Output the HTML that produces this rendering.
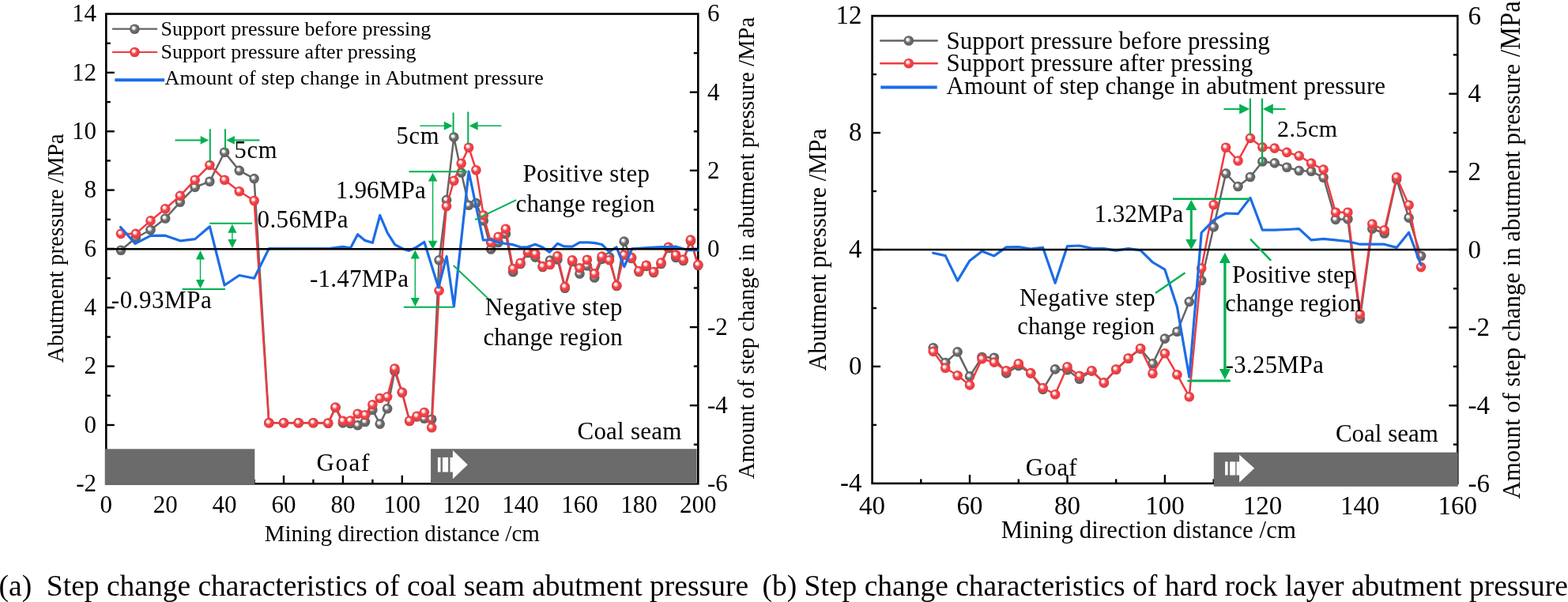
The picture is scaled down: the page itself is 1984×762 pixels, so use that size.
<!DOCTYPE html><html><head><meta charset="utf-8"><title>Step change characteristics</title>
<style>html,body{margin:0;padding:0;background:#fff;}svg{display:block;}text{font-family:"Liberation Serif", "Times New Roman", serif;fill:#000;}</style></head><body>
<svg width="1984" height="762" viewBox="0 0 1984 762">
<defs>
<radialGradient id="gG" cx="0.5" cy="0.5" r="0.5" fx="0.35" fy="0.35"><stop offset="0" stop-color="#ffffff"/><stop offset="0.22" stop-color="#f6f6f6"/><stop offset="0.55" stop-color="#6c6c6c"/><stop offset="0.8" stop-color="#646464"/><stop offset="1" stop-color="#5e5e5e"/></radialGradient>
<radialGradient id="gR" cx="0.5" cy="0.5" r="0.5" fx="0.35" fy="0.33"><stop offset="0" stop-color="#ffffff"/><stop offset="0.22" stop-color="#fff3f3"/><stop offset="0.55" stop-color="#ef454a"/><stop offset="0.8" stop-color="#ec3e43"/><stop offset="1" stop-color="#e8393e"/></radialGradient>
</defs>
<rect x="0" y="0" width="1984" height="762" fill="#fff"/>
<rect x="134.3" y="17.6" width="749" height="594.7" fill="none" stroke="#000" stroke-width="2.6"/>
<line x1="134.3" y1="575.1" x2="139.8" y2="575.1" stroke="#000" stroke-width="2.4" />
<line x1="134.3" y1="538" x2="144.8" y2="538" stroke="#000" stroke-width="2.4" />
<line x1="134.3" y1="500.8" x2="139.8" y2="500.8" stroke="#000" stroke-width="2.4" />
<line x1="134.3" y1="463.6" x2="144.8" y2="463.6" stroke="#000" stroke-width="2.4" />
<line x1="134.3" y1="426.5" x2="139.8" y2="426.5" stroke="#000" stroke-width="2.4" />
<line x1="134.3" y1="389.3" x2="144.8" y2="389.3" stroke="#000" stroke-width="2.4" />
<line x1="134.3" y1="352.1" x2="139.8" y2="352.1" stroke="#000" stroke-width="2.4" />
<line x1="134.3" y1="314.9" x2="144.8" y2="314.9" stroke="#000" stroke-width="2.4" />
<line x1="134.3" y1="277.8" x2="139.8" y2="277.8" stroke="#000" stroke-width="2.4" />
<line x1="134.3" y1="240.6" x2="144.8" y2="240.6" stroke="#000" stroke-width="2.4" />
<line x1="134.3" y1="203.4" x2="139.8" y2="203.4" stroke="#000" stroke-width="2.4" />
<line x1="134.3" y1="166.3" x2="144.8" y2="166.3" stroke="#000" stroke-width="2.4" />
<line x1="134.3" y1="129.1" x2="139.8" y2="129.1" stroke="#000" stroke-width="2.4" />
<line x1="134.3" y1="91.9" x2="144.8" y2="91.9" stroke="#000" stroke-width="2.4" />
<line x1="134.3" y1="54.8" x2="139.8" y2="54.8" stroke="#000" stroke-width="2.4" />
<line x1="883.3" y1="562.7" x2="877.8" y2="562.7" stroke="#000" stroke-width="2.4" />
<line x1="883.3" y1="513.2" x2="872.8" y2="513.2" stroke="#000" stroke-width="2.4" />
<line x1="883.3" y1="463.6" x2="877.8" y2="463.6" stroke="#000" stroke-width="2.4" />
<line x1="883.3" y1="414.1" x2="872.8" y2="414.1" stroke="#000" stroke-width="2.4" />
<line x1="883.3" y1="364.5" x2="877.8" y2="364.5" stroke="#000" stroke-width="2.4" />
<line x1="883.3" y1="314.9" x2="872.8" y2="314.9" stroke="#000" stroke-width="2.4" />
<line x1="883.3" y1="265.4" x2="877.8" y2="265.4" stroke="#000" stroke-width="2.4" />
<line x1="883.3" y1="215.8" x2="872.8" y2="215.8" stroke="#000" stroke-width="2.4" />
<line x1="883.3" y1="166.3" x2="877.8" y2="166.3" stroke="#000" stroke-width="2.4" />
<line x1="883.3" y1="116.7" x2="872.8" y2="116.7" stroke="#000" stroke-width="2.4" />
<line x1="883.3" y1="67.2" x2="877.8" y2="67.2" stroke="#000" stroke-width="2.4" />
<line x1="171.8" y1="612.3" x2="171.8" y2="606.8" stroke="#000" stroke-width="2.4" />
<line x1="209.2" y1="612.3" x2="209.2" y2="601.8" stroke="#000" stroke-width="2.4" />
<line x1="246.7" y1="612.3" x2="246.7" y2="606.8" stroke="#000" stroke-width="2.4" />
<line x1="284.1" y1="612.3" x2="284.1" y2="601.8" stroke="#000" stroke-width="2.4" />
<line x1="321.6" y1="612.3" x2="321.6" y2="606.8" stroke="#000" stroke-width="2.4" />
<line x1="359" y1="612.3" x2="359" y2="601.8" stroke="#000" stroke-width="2.4" />
<line x1="396.4" y1="612.3" x2="396.4" y2="606.8" stroke="#000" stroke-width="2.4" />
<line x1="433.9" y1="612.3" x2="433.9" y2="601.8" stroke="#000" stroke-width="2.4" />
<line x1="471.4" y1="612.3" x2="471.4" y2="606.8" stroke="#000" stroke-width="2.4" />
<line x1="508.8" y1="612.3" x2="508.8" y2="601.8" stroke="#000" stroke-width="2.4" />
<line x1="546.2" y1="612.3" x2="546.2" y2="606.8" stroke="#000" stroke-width="2.4" />
<line x1="583.7" y1="612.3" x2="583.7" y2="601.8" stroke="#000" stroke-width="2.4" />
<line x1="621.2" y1="612.3" x2="621.2" y2="606.8" stroke="#000" stroke-width="2.4" />
<line x1="658.6" y1="612.3" x2="658.6" y2="601.8" stroke="#000" stroke-width="2.4" />
<line x1="696" y1="612.3" x2="696" y2="606.8" stroke="#000" stroke-width="2.4" />
<line x1="733.5" y1="612.3" x2="733.5" y2="601.8" stroke="#000" stroke-width="2.4" />
<line x1="771" y1="612.3" x2="771" y2="606.8" stroke="#000" stroke-width="2.4" />
<line x1="808.4" y1="612.3" x2="808.4" y2="601.8" stroke="#000" stroke-width="2.4" />
<line x1="845.8" y1="612.3" x2="845.8" y2="606.8" stroke="#000" stroke-width="2.4" />
<text x="122.1" y="621.9" font-size="31" text-anchor="end" >-2</text>
<text x="122.1" y="547.6" font-size="31" text-anchor="end" >0</text>
<text x="122.1" y="473.2" font-size="31" text-anchor="end" >2</text>
<text x="122.1" y="398.9" font-size="31" text-anchor="end" >4</text>
<text x="122.1" y="324.6" font-size="31" text-anchor="end" >6</text>
<text x="122.1" y="250.2" font-size="31" text-anchor="end" >8</text>
<text x="122.1" y="175.9" font-size="31" text-anchor="end" >10</text>
<text x="122.1" y="101.5" font-size="31" text-anchor="end" >12</text>
<text x="122.1" y="27.2" font-size="31" text-anchor="end" >14</text>
<text x="895" y="622.1" font-size="31" text-anchor="start" >-6</text>
<text x="895" y="523" font-size="31" text-anchor="start" >-4</text>
<text x="895" y="423.9" font-size="31" text-anchor="start" >-2</text>
<text x="895" y="324.8" font-size="31" text-anchor="start" >0</text>
<text x="895" y="225.6" font-size="31" text-anchor="start" >2</text>
<text x="895" y="126.5" font-size="31" text-anchor="start" >4</text>
<text x="895" y="27.4" font-size="31" text-anchor="start" >6</text>
<text x="134.3" y="649.4" font-size="31" text-anchor="middle" >0</text>
<text x="209.2" y="649.4" font-size="31" text-anchor="middle" >20</text>
<text x="284.1" y="649.4" font-size="31" text-anchor="middle" >40</text>
<text x="359" y="649.4" font-size="31" text-anchor="middle" >60</text>
<text x="433.9" y="649.4" font-size="31" text-anchor="middle" >80</text>
<text x="508.8" y="649.4" font-size="31" text-anchor="middle" >100</text>
<text x="583.7" y="649.4" font-size="31" text-anchor="middle" >120</text>
<text x="658.6" y="649.4" font-size="31" text-anchor="middle" >140</text>
<text x="733.5" y="649.4" font-size="31" text-anchor="middle" >160</text>
<text x="808.4" y="649.4" font-size="31" text-anchor="middle" >180</text>
<text x="883.3" y="649.4" font-size="31" text-anchor="middle" >200</text>
<text transform="translate(80,314.3) rotate(-90)" font-size="29" text-anchor="middle">Abutment pressure /MPa</text>
<text transform="translate(953.8,313.9) rotate(-90)" font-size="28.8" text-anchor="middle">Amount of step change in abutment pressure /MPa</text>
<text x="334.7" y="684.8" font-size="29.0"  textLength="348.1" lengthAdjust="spacing">Mining direction distance /cm</text>
<rect x="132.7" y="568.3" width="189.6" height="45.4" fill="#6b6b6b"/>
<rect x="545.1" y="568.2" width="336.5" height="43.8" fill="#6b6b6b"/>
<rect x="553.9" y="578.9" width="3.6" height="18.6" fill="#fff"/>
<rect x="559.9" y="578.9" width="7.2" height="18.6" fill="#fff"/>
<rect x="569.5" y="578.9" width="3.9" height="18.6" fill="#fff"/>
<polygon points="572.9,570.1 591.8,588.2 572.9,606.2" fill="#fff"/>
<text x="730.5" y="555.7" font-size="31.0"  textLength="131.8" lengthAdjust="spacing">Coal seam</text>
<text x="400.4" y="596.1" font-size="31.0"  textLength="66.9" lengthAdjust="spacing">Goaf</text>
<polyline points="153,316.7 171.8,301 190.5,291 209.2,276.5 227.9,255.8 246.7,236.9 265.4,229.8 284.1,192.8 302.8,215.9 321.6,226.1 340.3,535.2 359,535.2 377.7,535.2 396.4,535.2 415.2,535.8 424.5,516 433.9,535.4 443.3,536 452.6,538.3 462,534 471.4,518.8 480.7,536.6 490.1,517.2 499.4,469.9 508.8,497 518.2,533 527.5,527.5 536.9,529.8 546.2,530.8 555.6,329.3 565,253.1 574.3,173.6 583.7,218.5 593.1,259.7 602.4,257.1 611.8,279.4 621.2,315.5 630.5,307 639.9,296 649.2,344.3 658.6,334 668,320 677.3,325.6 686.7,338 696,329.5 705.4,328.5 714.8,364.8 724.1,331 733.5,346.5 742.9,336.4 752.2,351.5 761.6,328 771,325.3 780.3,362 789.7,305.6 799,327 808.4,344 817.8,337 827.1,345 836.5,334 845.8,314 855.2,326 864.6,330 873.9,305 883.3,336" fill="none" stroke="#646464" stroke-width="2.5" stroke-linejoin="round" stroke-linecap="round"/>
<circle cx="153" cy="316.7" r="6.3" fill="url(#gG)"/>
<circle cx="171.8" cy="301" r="6.3" fill="url(#gG)"/>
<circle cx="190.5" cy="291" r="6.3" fill="url(#gG)"/>
<circle cx="209.2" cy="276.5" r="6.3" fill="url(#gG)"/>
<circle cx="227.9" cy="255.8" r="6.3" fill="url(#gG)"/>
<circle cx="246.7" cy="236.9" r="6.3" fill="url(#gG)"/>
<circle cx="265.4" cy="229.8" r="6.3" fill="url(#gG)"/>
<circle cx="284.1" cy="192.8" r="6.3" fill="url(#gG)"/>
<circle cx="302.8" cy="215.9" r="6.3" fill="url(#gG)"/>
<circle cx="321.6" cy="226.1" r="6.3" fill="url(#gG)"/>
<circle cx="340.3" cy="535.2" r="6.3" fill="url(#gG)"/>
<circle cx="359" cy="535.2" r="6.3" fill="url(#gG)"/>
<circle cx="377.7" cy="535.2" r="6.3" fill="url(#gG)"/>
<circle cx="396.4" cy="535.2" r="6.3" fill="url(#gG)"/>
<circle cx="415.2" cy="535.8" r="6.3" fill="url(#gG)"/>
<circle cx="424.5" cy="516" r="6.3" fill="url(#gG)"/>
<circle cx="433.9" cy="535.4" r="6.3" fill="url(#gG)"/>
<circle cx="443.3" cy="536" r="6.3" fill="url(#gG)"/>
<circle cx="452.6" cy="538.3" r="6.3" fill="url(#gG)"/>
<circle cx="462" cy="534" r="6.3" fill="url(#gG)"/>
<circle cx="471.4" cy="518.8" r="6.3" fill="url(#gG)"/>
<circle cx="480.7" cy="536.6" r="6.3" fill="url(#gG)"/>
<circle cx="490.1" cy="517.2" r="6.3" fill="url(#gG)"/>
<circle cx="499.4" cy="469.9" r="6.3" fill="url(#gG)"/>
<circle cx="508.8" cy="497" r="6.3" fill="url(#gG)"/>
<circle cx="518.2" cy="533" r="6.3" fill="url(#gG)"/>
<circle cx="527.5" cy="527.5" r="6.3" fill="url(#gG)"/>
<circle cx="536.9" cy="529.8" r="6.3" fill="url(#gG)"/>
<circle cx="546.2" cy="530.8" r="6.3" fill="url(#gG)"/>
<circle cx="555.6" cy="329.3" r="6.3" fill="url(#gG)"/>
<circle cx="565" cy="253.1" r="6.3" fill="url(#gG)"/>
<circle cx="574.3" cy="173.6" r="6.3" fill="url(#gG)"/>
<circle cx="583.7" cy="218.5" r="6.3" fill="url(#gG)"/>
<circle cx="593.1" cy="259.7" r="6.3" fill="url(#gG)"/>
<circle cx="602.4" cy="257.1" r="6.3" fill="url(#gG)"/>
<circle cx="611.8" cy="279.4" r="6.3" fill="url(#gG)"/>
<circle cx="621.2" cy="315.5" r="6.3" fill="url(#gG)"/>
<circle cx="630.5" cy="307" r="6.3" fill="url(#gG)"/>
<circle cx="639.9" cy="296" r="6.3" fill="url(#gG)"/>
<circle cx="649.2" cy="344.3" r="6.3" fill="url(#gG)"/>
<circle cx="658.6" cy="334" r="6.3" fill="url(#gG)"/>
<circle cx="668" cy="320" r="6.3" fill="url(#gG)"/>
<circle cx="677.3" cy="325.6" r="6.3" fill="url(#gG)"/>
<circle cx="686.7" cy="338" r="6.3" fill="url(#gG)"/>
<circle cx="696" cy="329.5" r="6.3" fill="url(#gG)"/>
<circle cx="705.4" cy="328.5" r="6.3" fill="url(#gG)"/>
<circle cx="714.8" cy="364.8" r="6.3" fill="url(#gG)"/>
<circle cx="724.1" cy="331" r="6.3" fill="url(#gG)"/>
<circle cx="733.5" cy="346.5" r="6.3" fill="url(#gG)"/>
<circle cx="742.9" cy="336.4" r="6.3" fill="url(#gG)"/>
<circle cx="752.2" cy="351.5" r="6.3" fill="url(#gG)"/>
<circle cx="761.6" cy="328" r="6.3" fill="url(#gG)"/>
<circle cx="771" cy="325.3" r="6.3" fill="url(#gG)"/>
<circle cx="780.3" cy="362" r="6.3" fill="url(#gG)"/>
<circle cx="789.7" cy="305.6" r="6.3" fill="url(#gG)"/>
<circle cx="799" cy="327" r="6.3" fill="url(#gG)"/>
<circle cx="808.4" cy="344" r="6.3" fill="url(#gG)"/>
<circle cx="817.8" cy="337" r="6.3" fill="url(#gG)"/>
<circle cx="827.1" cy="345" r="6.3" fill="url(#gG)"/>
<circle cx="836.5" cy="334" r="6.3" fill="url(#gG)"/>
<circle cx="845.8" cy="314" r="6.3" fill="url(#gG)"/>
<circle cx="855.2" cy="326" r="6.3" fill="url(#gG)"/>
<circle cx="864.6" cy="330" r="6.3" fill="url(#gG)"/>
<circle cx="873.9" cy="305" r="6.3" fill="url(#gG)"/>
<circle cx="883.3" cy="336" r="6.3" fill="url(#gG)"/>
<polyline points="153,295.9 171.8,295.9 190.5,279.4 209.2,264.2 227.9,247.9 246.7,227.7 265.4,209 284.1,227.7 302.8,242.2 321.6,254 340.3,535.2 359,535.2 377.7,535.2 396.4,535.2 415.2,535.5 424.5,515.6 433.9,532.7 443.3,532.5 452.6,523.7 462,525.2 471.4,512.2 480.7,504 490.1,502.2 499.4,466.5 508.8,496.6 518.2,532.7 527.5,526.7 536.9,522 546.2,541.3 555.6,367.9 565,261 574.3,228.7 583.7,206.7 593.1,186.7 602.4,215.2 611.8,272.5 621.2,306.9 630.5,299.7 639.9,289.7 649.2,340 658.6,332.8 668,318.4 677.3,321.2 686.7,337.1 696,335 705.4,324.1 714.8,363.1 724.1,329.2 733.5,339.3 742.9,328.8 752.2,346.4 761.6,324.6 771,329.2 780.3,361.4 789.7,322.7 799,325.9 808.4,343 817.8,335.8 827.1,344 836.5,332.5 845.8,312.8 855.2,322.7 864.6,328.6 873.9,303.6 883.3,335.1" fill="none" stroke="#ee3b40" stroke-width="2.5" stroke-linejoin="round" stroke-linecap="round"/>
<circle cx="153" cy="295.9" r="6.3" fill="url(#gR)"/>
<circle cx="171.8" cy="295.9" r="6.3" fill="url(#gR)"/>
<circle cx="190.5" cy="279.4" r="6.3" fill="url(#gR)"/>
<circle cx="209.2" cy="264.2" r="6.3" fill="url(#gR)"/>
<circle cx="227.9" cy="247.9" r="6.3" fill="url(#gR)"/>
<circle cx="246.7" cy="227.7" r="6.3" fill="url(#gR)"/>
<circle cx="265.4" cy="209" r="6.3" fill="url(#gR)"/>
<circle cx="284.1" cy="227.7" r="6.3" fill="url(#gR)"/>
<circle cx="302.8" cy="242.2" r="6.3" fill="url(#gR)"/>
<circle cx="321.6" cy="254" r="6.3" fill="url(#gR)"/>
<circle cx="340.3" cy="535.2" r="6.3" fill="url(#gR)"/>
<circle cx="359" cy="535.2" r="6.3" fill="url(#gR)"/>
<circle cx="377.7" cy="535.2" r="6.3" fill="url(#gR)"/>
<circle cx="396.4" cy="535.2" r="6.3" fill="url(#gR)"/>
<circle cx="415.2" cy="535.5" r="6.3" fill="url(#gR)"/>
<circle cx="424.5" cy="515.6" r="6.3" fill="url(#gR)"/>
<circle cx="433.9" cy="532.7" r="6.3" fill="url(#gR)"/>
<circle cx="443.3" cy="532.5" r="6.3" fill="url(#gR)"/>
<circle cx="452.6" cy="523.7" r="6.3" fill="url(#gR)"/>
<circle cx="462" cy="525.2" r="6.3" fill="url(#gR)"/>
<circle cx="471.4" cy="512.2" r="6.3" fill="url(#gR)"/>
<circle cx="480.7" cy="504" r="6.3" fill="url(#gR)"/>
<circle cx="490.1" cy="502.2" r="6.3" fill="url(#gR)"/>
<circle cx="499.4" cy="466.5" r="6.3" fill="url(#gR)"/>
<circle cx="508.8" cy="496.6" r="6.3" fill="url(#gR)"/>
<circle cx="518.2" cy="532.7" r="6.3" fill="url(#gR)"/>
<circle cx="527.5" cy="526.7" r="6.3" fill="url(#gR)"/>
<circle cx="536.9" cy="522" r="6.3" fill="url(#gR)"/>
<circle cx="546.2" cy="541.3" r="6.3" fill="url(#gR)"/>
<circle cx="555.6" cy="367.9" r="6.3" fill="url(#gR)"/>
<circle cx="565" cy="261" r="6.3" fill="url(#gR)"/>
<circle cx="574.3" cy="228.7" r="6.3" fill="url(#gR)"/>
<circle cx="583.7" cy="206.7" r="6.3" fill="url(#gR)"/>
<circle cx="593.1" cy="186.7" r="6.3" fill="url(#gR)"/>
<circle cx="602.4" cy="215.2" r="6.3" fill="url(#gR)"/>
<circle cx="611.8" cy="272.5" r="6.3" fill="url(#gR)"/>
<circle cx="621.2" cy="306.9" r="6.3" fill="url(#gR)"/>
<circle cx="630.5" cy="299.7" r="6.3" fill="url(#gR)"/>
<circle cx="639.9" cy="289.7" r="6.3" fill="url(#gR)"/>
<circle cx="649.2" cy="340" r="6.3" fill="url(#gR)"/>
<circle cx="658.6" cy="332.8" r="6.3" fill="url(#gR)"/>
<circle cx="668" cy="318.4" r="6.3" fill="url(#gR)"/>
<circle cx="677.3" cy="321.2" r="6.3" fill="url(#gR)"/>
<circle cx="686.7" cy="337.1" r="6.3" fill="url(#gR)"/>
<circle cx="696" cy="335" r="6.3" fill="url(#gR)"/>
<circle cx="705.4" cy="324.1" r="6.3" fill="url(#gR)"/>
<circle cx="714.8" cy="363.1" r="6.3" fill="url(#gR)"/>
<circle cx="724.1" cy="329.2" r="6.3" fill="url(#gR)"/>
<circle cx="733.5" cy="339.3" r="6.3" fill="url(#gR)"/>
<circle cx="742.9" cy="328.8" r="6.3" fill="url(#gR)"/>
<circle cx="752.2" cy="346.4" r="6.3" fill="url(#gR)"/>
<circle cx="761.6" cy="324.6" r="6.3" fill="url(#gR)"/>
<circle cx="771" cy="329.2" r="6.3" fill="url(#gR)"/>
<circle cx="780.3" cy="361.4" r="6.3" fill="url(#gR)"/>
<circle cx="789.7" cy="322.7" r="6.3" fill="url(#gR)"/>
<circle cx="799" cy="325.9" r="6.3" fill="url(#gR)"/>
<circle cx="808.4" cy="343" r="6.3" fill="url(#gR)"/>
<circle cx="817.8" cy="335.8" r="6.3" fill="url(#gR)"/>
<circle cx="827.1" cy="344" r="6.3" fill="url(#gR)"/>
<circle cx="836.5" cy="332.5" r="6.3" fill="url(#gR)"/>
<circle cx="845.8" cy="312.8" r="6.3" fill="url(#gR)"/>
<circle cx="855.2" cy="322.7" r="6.3" fill="url(#gR)"/>
<circle cx="864.6" cy="328.6" r="6.3" fill="url(#gR)"/>
<circle cx="873.9" cy="303.6" r="6.3" fill="url(#gR)"/>
<circle cx="883.3" cy="335.1" r="6.3" fill="url(#gR)"/>
<polyline points="152.6,287.5 171.1,308.4 190.5,298.4 209.2,298.2 228,304.8 246.7,302.6 265.4,286.8 284.1,361 302.8,348.5 321.6,352.2 340.3,314.6 418.2,314.3 433.6,312.3 443.6,313.8 452.5,296.7 461.9,304.4 471.4,307.3 480.8,272.5 490.3,294.9 499.7,309.7 509.8,315 517.5,317.4 526.3,313.3 536.8,306.3 554.8,364 565.1,324.6 574.4,388 593.1,217 611.4,304 620.9,303.5 633.2,307.5 649.1,309.7 659.2,313 667.9,312.6 677.2,309.3 686.6,313 695.3,319.1 705.4,308.3 714,311.9 724.2,312.2 733.5,306.8 744.4,306.8 753.1,307.6 761.7,309.5 770.8,318.7 780,312.8 789.9,337.7 799.7,314.8 831.9,312.8 855.5,312.2 871.2,316.7 883,316.7" fill="none" stroke="#1c6de6" stroke-width="3.2" stroke-linejoin="round" stroke-linecap="round"/>
<line x1="134.3" y1="315.3" x2="883.3" y2="315.3" stroke="#000" stroke-width="2.6" />
<line x1="142.8" y1="36.7" x2="198.3" y2="36.7" stroke="#646464" stroke-width="2.2" stroke-linecap="round"/>
<circle cx="170.4" cy="36.7" r="6.3" fill="url(#gG)"/>
<line x1="142.8" y1="66" x2="198.3" y2="66" stroke="#ee3b40" stroke-width="2.2" stroke-linecap="round"/>
<circle cx="170.4" cy="66" r="6.3" fill="url(#gR)"/>
<line x1="145.3" y1="101.2" x2="208.1" y2="101.2" stroke="#1c6de6" stroke-width="4.0" />
<text x="203.4" y="45.2" font-size="26.0"  textLength="341.9" lengthAdjust="spacing">Support pressure before pressing</text>
<text x="203.4" y="74.3" font-size="26.0"  textLength="323.2" lengthAdjust="spacing">Support pressure after pressing</text>
<text x="208.6" y="106.5" font-size="26.0"  textLength="479.2" lengthAdjust="spacing">Amount of step change in Abutment pressure</text>
<line x1="221.5" y1="177.4" x2="255" y2="177.4" stroke="#00b050" stroke-width="2.0" />
<polygon points="264.2,177.4 253.7,172.1 253.7,182.7" fill="#00b050"/>
<line x1="265.8" y1="163.3" x2="265.8" y2="206" stroke="#00b050" stroke-width="2.0" />
<line x1="285" y1="163.3" x2="285" y2="190" stroke="#00b050" stroke-width="2.0" />
<polygon points="286.3,177.4 296.8,172.1 296.8,182.7" fill="#00b050"/>
<line x1="295" y1="177.4" x2="328.5" y2="177.4" stroke="#00b050" stroke-width="2.0" />
<text x="296.4" y="199.6" font-size="30.5"  textLength="54.0" lengthAdjust="spacing">5cm</text>
<line x1="265.2" y1="282.8" x2="319.1" y2="282.8" stroke="#00b050" stroke-width="2.0" />
<line x1="293.9" y1="289.3" x2="293.9" y2="308.4" stroke="#00b050" stroke-width="1.4" />
<polygon points="293.9,283.8 288.3,294.8 299.5,294.8" fill="#00b050"/>
<polygon points="293.9,313.9 288.3,302.9 299.5,302.9" fill="#00b050"/>
<text x="325.6" y="287.8" font-size="31.0"  textLength="115.0" lengthAdjust="spacing">0.56MPa</text>
<line x1="230.7" y1="365.9" x2="285" y2="365.9" stroke="#00b050" stroke-width="2.0" />
<line x1="253.5" y1="322.7" x2="253.5" y2="359.6" stroke="#00b050" stroke-width="1.4" />
<polygon points="253.5,317 248,328.4 259,328.4" fill="#00b050"/>
<polygon points="253.5,365.3 248,353.9 259,353.9" fill="#00b050"/>
<text x="140.8" y="389.6" font-size="31.0"  textLength="127.0" lengthAdjust="spacing">-0.93MPa</text>
<line x1="531.3" y1="159.3" x2="563" y2="159.3" stroke="#00b050" stroke-width="1.4" />
<polygon points="572.8,159.3 561.8,153.8 561.8,164.8" fill="#00b050"/>
<line x1="573.6" y1="142.5" x2="573.6" y2="170.3" stroke="#00b050" stroke-width="2.0" />
<line x1="592.3" y1="141.5" x2="592.3" y2="183" stroke="#00b050" stroke-width="2.0" />
<polygon points="593.6,159.3 604.6,153.8 604.6,164.8" fill="#00b050"/>
<line x1="602" y1="159.3" x2="634.5" y2="159.3" stroke="#00b050" stroke-width="1.4" />
<text x="501.5" y="181.9" font-size="30.5"  textLength="54.1" lengthAdjust="spacing">5cm</text>
<line x1="517.5" y1="217.2" x2="591" y2="217.2" stroke="#00b050" stroke-width="2.0" />
<line x1="547.6" y1="224.1" x2="547.6" y2="310.1" stroke="#00b050" stroke-width="1.4" />
<polygon points="547.6,218.7 541.8,229.5 553.4,229.5" fill="#00b050"/>
<polygon points="547.6,315.5 541.8,304.7 553.4,304.7" fill="#00b050"/>
<text x="424.8" y="251.2" font-size="31.0"  textLength="113.9" lengthAdjust="spacing">1.96MPa</text>
<line x1="510.8" y1="388.8" x2="573.6" y2="388.8" stroke="#00b050" stroke-width="2.0" />
<line x1="525.3" y1="322.1" x2="525.3" y2="382.5" stroke="#00b050" stroke-width="1.4" />
<polygon points="525.3,316.6 519.7,327.6 530.9,327.6" fill="#00b050"/>
<polygon points="525.3,388 519.7,377 530.9,377" fill="#00b050"/>
<text x="391.9" y="363.0" font-size="31.0"  textLength="125.0" lengthAdjust="spacing">-1.47MPa</text>
<line x1="601.2" y1="278.2" x2="653.2" y2="253.1" stroke="#00b050" stroke-width="2.0" />
<text x="661.4" y="229.8" font-size="31.0"  textLength="160.6" lengthAdjust="spacing">Positive step</text>
<text x="652.6" y="267.6" font-size="31.0"  textLength="175.8" lengthAdjust="spacing">change region</text>
<line x1="573.7" y1="336" x2="619.2" y2="379.4" stroke="#00b050" stroke-width="2.0" />
<text x="613.8" y="399.4" font-size="31.0"  textLength="173.8" lengthAdjust="spacing">Negative step</text>
<text x="611.4" y="436.7" font-size="31.0"  textLength="176.4" lengthAdjust="spacing">change region</text>
<rect x="1103.6" y="20.1" width="740.7" height="591.8" fill="none" stroke="#000" stroke-width="2.6"/>
<line x1="1103.6" y1="537.9" x2="1109.1" y2="537.9" stroke="#000" stroke-width="2.4" />
<line x1="1103.6" y1="463.9" x2="1114.1" y2="463.9" stroke="#000" stroke-width="2.4" />
<line x1="1103.6" y1="390" x2="1109.1" y2="390" stroke="#000" stroke-width="2.4" />
<line x1="1103.6" y1="316" x2="1114.1" y2="316" stroke="#000" stroke-width="2.4" />
<line x1="1103.6" y1="242" x2="1109.1" y2="242" stroke="#000" stroke-width="2.4" />
<line x1="1103.6" y1="168.1" x2="1114.1" y2="168.1" stroke="#000" stroke-width="2.4" />
<line x1="1103.6" y1="94.1" x2="1109.1" y2="94.1" stroke="#000" stroke-width="2.4" />
<line x1="1844.3" y1="562.6" x2="1838.8" y2="562.6" stroke="#000" stroke-width="2.4" />
<line x1="1844.3" y1="513.3" x2="1833.3" y2="513.3" stroke="#000" stroke-width="2.4" />
<line x1="1844.3" y1="463.9" x2="1838.8" y2="463.9" stroke="#000" stroke-width="2.4" />
<line x1="1844.3" y1="414.6" x2="1833.3" y2="414.6" stroke="#000" stroke-width="2.4" />
<line x1="1844.3" y1="365.3" x2="1838.8" y2="365.3" stroke="#000" stroke-width="2.4" />
<line x1="1844.3" y1="316" x2="1833.3" y2="316" stroke="#000" stroke-width="2.4" />
<line x1="1844.3" y1="266.7" x2="1838.8" y2="266.7" stroke="#000" stroke-width="2.4" />
<line x1="1844.3" y1="217.4" x2="1833.3" y2="217.4" stroke="#000" stroke-width="2.4" />
<line x1="1844.3" y1="168.1" x2="1838.8" y2="168.1" stroke="#000" stroke-width="2.4" />
<line x1="1844.3" y1="118.7" x2="1833.3" y2="118.7" stroke="#000" stroke-width="2.4" />
<line x1="1844.3" y1="69.4" x2="1838.8" y2="69.4" stroke="#000" stroke-width="2.4" />
<line x1="1165.3" y1="611.9" x2="1165.3" y2="606.4" stroke="#000" stroke-width="2.4" />
<line x1="1227" y1="611.9" x2="1227" y2="600.9" stroke="#000" stroke-width="2.4" />
<line x1="1288.8" y1="611.9" x2="1288.8" y2="606.4" stroke="#000" stroke-width="2.4" />
<line x1="1350.5" y1="611.9" x2="1350.5" y2="600.9" stroke="#000" stroke-width="2.4" />
<line x1="1412.2" y1="611.9" x2="1412.2" y2="606.4" stroke="#000" stroke-width="2.4" />
<line x1="1473.9" y1="611.9" x2="1473.9" y2="600.9" stroke="#000" stroke-width="2.4" />
<line x1="1535.7" y1="611.9" x2="1535.7" y2="606.4" stroke="#000" stroke-width="2.4" />
<line x1="1597.4" y1="611.9" x2="1597.4" y2="600.9" stroke="#000" stroke-width="2.4" />
<line x1="1659.1" y1="611.9" x2="1659.1" y2="606.4" stroke="#000" stroke-width="2.4" />
<line x1="1720.8" y1="611.9" x2="1720.8" y2="600.9" stroke="#000" stroke-width="2.4" />
<line x1="1782.6" y1="611.9" x2="1782.6" y2="606.4" stroke="#000" stroke-width="2.4" />
<text x="1090.6" y="621.8" font-size="33" text-anchor="end" >-4</text>
<text x="1090.6" y="473.8" font-size="33" text-anchor="end" >0</text>
<text x="1090.6" y="325.9" font-size="33" text-anchor="end" >4</text>
<text x="1090.6" y="178" font-size="33" text-anchor="end" >8</text>
<text x="1090.6" y="30" font-size="33" text-anchor="end" >12</text>
<text x="1857.5" y="622.5" font-size="33" text-anchor="start" >-6</text>
<text x="1857.5" y="523.9" font-size="33" text-anchor="start" >-4</text>
<text x="1857.5" y="425.2" font-size="33" text-anchor="start" >-2</text>
<text x="1857.5" y="326.6" font-size="33" text-anchor="start" >0</text>
<text x="1857.5" y="228" font-size="33" text-anchor="start" >2</text>
<text x="1857.5" y="129.3" font-size="33" text-anchor="start" >4</text>
<text x="1857.5" y="30.7" font-size="33" text-anchor="start" >6</text>
<text x="1103.6" y="651" font-size="33" text-anchor="middle" >40</text>
<text x="1227" y="651" font-size="33" text-anchor="middle" >60</text>
<text x="1350.5" y="651" font-size="33" text-anchor="middle" >80</text>
<text x="1473.9" y="651" font-size="33" text-anchor="middle" >100</text>
<text x="1597.4" y="651" font-size="33" text-anchor="middle" >120</text>
<text x="1720.8" y="651" font-size="33" text-anchor="middle" >140</text>
<text x="1844.3" y="651" font-size="33" text-anchor="middle" >160</text>
<text transform="translate(1045.4,316.2) rotate(-90)" font-size="30.7" text-anchor="middle">Abutment pressure /MPa</text>
<text transform="translate(1922.8,631.4) rotate(-90)" font-size="32" textLength="550.5" lengthAdjust="spacingAndGlyphs">Amount of step change in abutment pressure</text>
<text transform="translate(1922.8,72.0) rotate(-90)" font-size="35" textLength="70.6" lengthAdjust="spacingAndGlyphs">/MPa</text>
<text x="1266.7" y="681.0" font-size="30.8"  textLength="373.3" lengthAdjust="spacing">Mining direction distance /cm</text>
<rect x="1535.8" y="572.6" width="308.9" height="43.2" fill="#6b6b6b"/>
<rect x="1550.1" y="584.4" width="3.5" height="17.1" fill="#fff"/>
<rect x="1556.1" y="584.4" width="7.1" height="17.1" fill="#fff"/>
<rect x="1564.6" y="584.4" width="4" height="17.1" fill="#fff"/>
<polygon points="1568.1,575.6 1587.2,592.7 1568.1,610.8" fill="#fff"/>
<text x="1689.9" y="558.7" font-size="31.0" >Coal seam</text>
<text x="1297.8" y="601.5" font-size="31.0"  textLength="64.8" lengthAdjust="spacing">Goaf</text>
<polyline points="1180.8,440.2 1196.2,459 1211.6,445.4 1227,476.4 1242.5,452 1257.9,452.8 1273.3,472.4 1288.8,463 1304.2,472.5 1319.6,492.9 1335.1,467.4 1350.5,468.2 1365.9,479.7 1381.4,469.5 1396.8,484.5 1412.2,467.8 1427.7,453.8 1443.1,441.5 1458.5,460.2 1473.9,428.6 1489.4,419.8 1504.8,381.9 1520.2,355 1535.7,287.3 1551.1,219.6 1566.5,236 1582,224 1597.4,204.5 1612.8,206.4 1628.3,211.7 1643.7,216 1659.1,216.8 1674.6,224.7 1690,277.9 1705.4,277.3 1720.8,403.5 1736.3,289.5 1751.7,295.5 1767.1,227 1782.6,275.6 1798,324" fill="none" stroke="#646464" stroke-width="2.5" stroke-linejoin="round" stroke-linecap="round"/>
<circle cx="1180.8" cy="440.2" r="6.3" fill="url(#gG)"/>
<circle cx="1196.2" cy="459" r="6.3" fill="url(#gG)"/>
<circle cx="1211.6" cy="445.4" r="6.3" fill="url(#gG)"/>
<circle cx="1227" cy="476.4" r="6.3" fill="url(#gG)"/>
<circle cx="1242.5" cy="452" r="6.3" fill="url(#gG)"/>
<circle cx="1257.9" cy="452.8" r="6.3" fill="url(#gG)"/>
<circle cx="1273.3" cy="472.4" r="6.3" fill="url(#gG)"/>
<circle cx="1288.8" cy="463" r="6.3" fill="url(#gG)"/>
<circle cx="1304.2" cy="472.5" r="6.3" fill="url(#gG)"/>
<circle cx="1319.6" cy="492.9" r="6.3" fill="url(#gG)"/>
<circle cx="1335.1" cy="467.4" r="6.3" fill="url(#gG)"/>
<circle cx="1350.5" cy="468.2" r="6.3" fill="url(#gG)"/>
<circle cx="1365.9" cy="479.7" r="6.3" fill="url(#gG)"/>
<circle cx="1381.4" cy="469.5" r="6.3" fill="url(#gG)"/>
<circle cx="1396.8" cy="484.5" r="6.3" fill="url(#gG)"/>
<circle cx="1412.2" cy="467.8" r="6.3" fill="url(#gG)"/>
<circle cx="1427.7" cy="453.8" r="6.3" fill="url(#gG)"/>
<circle cx="1443.1" cy="441.5" r="6.3" fill="url(#gG)"/>
<circle cx="1458.5" cy="460.2" r="6.3" fill="url(#gG)"/>
<circle cx="1473.9" cy="428.6" r="6.3" fill="url(#gG)"/>
<circle cx="1489.4" cy="419.8" r="6.3" fill="url(#gG)"/>
<circle cx="1504.8" cy="381.9" r="6.3" fill="url(#gG)"/>
<circle cx="1520.2" cy="355" r="6.3" fill="url(#gG)"/>
<circle cx="1535.7" cy="287.3" r="6.3" fill="url(#gG)"/>
<circle cx="1551.1" cy="219.6" r="6.3" fill="url(#gG)"/>
<circle cx="1566.5" cy="236" r="6.3" fill="url(#gG)"/>
<circle cx="1582" cy="224" r="6.3" fill="url(#gG)"/>
<circle cx="1597.4" cy="204.5" r="6.3" fill="url(#gG)"/>
<circle cx="1612.8" cy="206.4" r="6.3" fill="url(#gG)"/>
<circle cx="1628.3" cy="211.7" r="6.3" fill="url(#gG)"/>
<circle cx="1643.7" cy="216" r="6.3" fill="url(#gG)"/>
<circle cx="1659.1" cy="216.8" r="6.3" fill="url(#gG)"/>
<circle cx="1674.6" cy="224.7" r="6.3" fill="url(#gG)"/>
<circle cx="1690" cy="277.9" r="6.3" fill="url(#gG)"/>
<circle cx="1705.4" cy="277.3" r="6.3" fill="url(#gG)"/>
<circle cx="1720.8" cy="403.5" r="6.3" fill="url(#gG)"/>
<circle cx="1736.3" cy="289.5" r="6.3" fill="url(#gG)"/>
<circle cx="1751.7" cy="295.5" r="6.3" fill="url(#gG)"/>
<circle cx="1767.1" cy="227" r="6.3" fill="url(#gG)"/>
<circle cx="1782.6" cy="275.6" r="6.3" fill="url(#gG)"/>
<circle cx="1798" cy="324" r="6.3" fill="url(#gG)"/>
<polyline points="1180.8,444.9 1196.2,465.8 1211.6,475.3 1227,487.4 1242.5,454.3 1257.9,458.6 1273.3,469.3 1288.8,460.3 1304.2,472.1 1319.6,491 1335.1,499.2 1350.5,464.2 1365.9,475.8 1381.4,469.2 1396.8,484.3 1412.2,467.5 1427.7,453.5 1443.1,441 1458.5,472.7 1473.9,447.3 1489.4,474.2 1504.8,502.2 1520.2,339.5 1535.7,259.3 1551.1,186.7 1566.5,203.5 1582,174.9 1597.4,186.4 1612.8,187.6 1628.3,192.9 1643.7,197.3 1659.1,206.6 1674.6,214.6 1690,268.7 1705.4,268.7 1720.8,397.7 1736.3,283.5 1751.7,291.3 1767.1,224.3 1782.6,259.5 1798,338.1" fill="none" stroke="#ee3b40" stroke-width="2.5" stroke-linejoin="round" stroke-linecap="round"/>
<circle cx="1180.8" cy="444.9" r="6.3" fill="url(#gR)"/>
<circle cx="1196.2" cy="465.8" r="6.3" fill="url(#gR)"/>
<circle cx="1211.6" cy="475.3" r="6.3" fill="url(#gR)"/>
<circle cx="1227" cy="487.4" r="6.3" fill="url(#gR)"/>
<circle cx="1242.5" cy="454.3" r="6.3" fill="url(#gR)"/>
<circle cx="1257.9" cy="458.6" r="6.3" fill="url(#gR)"/>
<circle cx="1273.3" cy="469.3" r="6.3" fill="url(#gR)"/>
<circle cx="1288.8" cy="460.3" r="6.3" fill="url(#gR)"/>
<circle cx="1304.2" cy="472.1" r="6.3" fill="url(#gR)"/>
<circle cx="1319.6" cy="491" r="6.3" fill="url(#gR)"/>
<circle cx="1335.1" cy="499.2" r="6.3" fill="url(#gR)"/>
<circle cx="1350.5" cy="464.2" r="6.3" fill="url(#gR)"/>
<circle cx="1365.9" cy="475.8" r="6.3" fill="url(#gR)"/>
<circle cx="1381.4" cy="469.2" r="6.3" fill="url(#gR)"/>
<circle cx="1396.8" cy="484.3" r="6.3" fill="url(#gR)"/>
<circle cx="1412.2" cy="467.5" r="6.3" fill="url(#gR)"/>
<circle cx="1427.7" cy="453.5" r="6.3" fill="url(#gR)"/>
<circle cx="1443.1" cy="441" r="6.3" fill="url(#gR)"/>
<circle cx="1458.5" cy="472.7" r="6.3" fill="url(#gR)"/>
<circle cx="1473.9" cy="447.3" r="6.3" fill="url(#gR)"/>
<circle cx="1489.4" cy="474.2" r="6.3" fill="url(#gR)"/>
<circle cx="1504.8" cy="502.2" r="6.3" fill="url(#gR)"/>
<circle cx="1520.2" cy="339.5" r="6.3" fill="url(#gR)"/>
<circle cx="1535.7" cy="259.3" r="6.3" fill="url(#gR)"/>
<circle cx="1551.1" cy="186.7" r="6.3" fill="url(#gR)"/>
<circle cx="1566.5" cy="203.5" r="6.3" fill="url(#gR)"/>
<circle cx="1582" cy="174.9" r="6.3" fill="url(#gR)"/>
<circle cx="1597.4" cy="186.4" r="6.3" fill="url(#gR)"/>
<circle cx="1612.8" cy="187.6" r="6.3" fill="url(#gR)"/>
<circle cx="1628.3" cy="192.9" r="6.3" fill="url(#gR)"/>
<circle cx="1643.7" cy="197.3" r="6.3" fill="url(#gR)"/>
<circle cx="1659.1" cy="206.6" r="6.3" fill="url(#gR)"/>
<circle cx="1674.6" cy="214.6" r="6.3" fill="url(#gR)"/>
<circle cx="1690" cy="268.7" r="6.3" fill="url(#gR)"/>
<circle cx="1705.4" cy="268.7" r="6.3" fill="url(#gR)"/>
<circle cx="1720.8" cy="397.7" r="6.3" fill="url(#gR)"/>
<circle cx="1736.3" cy="283.5" r="6.3" fill="url(#gR)"/>
<circle cx="1751.7" cy="291.3" r="6.3" fill="url(#gR)"/>
<circle cx="1767.1" cy="224.3" r="6.3" fill="url(#gR)"/>
<circle cx="1782.6" cy="259.5" r="6.3" fill="url(#gR)"/>
<circle cx="1798" cy="338.1" r="6.3" fill="url(#gR)"/>
<polyline points="1180.8,320.2 1196.2,323.6 1211.6,355.4 1227,329.9 1242.5,318.1 1257.9,323.9 1273.3,312.9 1288.8,312.6 1304.2,315 1319.6,313.4 1335.1,358.3 1350.5,311.6 1365.9,311 1381.4,314.4 1396.8,314.7 1412.2,317.1 1427.7,314.7 1443.1,316.8 1458.5,332 1473.9,341.2 1489.4,388.6 1504.8,477.2 1520.2,294.5 1535.7,278.6 1551.1,270 1566.5,270.6 1582,250.4 1597.4,291.2 1612.8,291.2 1628.3,290.5 1643.7,289.6 1659.1,303.9 1674.6,302.3 1690,303.9 1705.4,305.5 1720.8,309.2 1736.3,309.2 1751.7,309.2 1767.1,313.4 1782.6,294.3 1798,335.5" fill="none" stroke="#1c6de6" stroke-width="3.2" stroke-linejoin="round" stroke-linecap="round"/>
<line x1="1103.6" y1="316" x2="1844.3" y2="316" stroke="#000" stroke-width="2.6" />
<line x1="1114.3" y1="51.5" x2="1185.7" y2="51.5" stroke="#646464" stroke-width="2.4" stroke-linecap="round"/>
<circle cx="1149.8" cy="51.5" r="6.3" fill="url(#gG)"/>
<line x1="1114.3" y1="80.2" x2="1185.7" y2="80.2" stroke="#ee3b40" stroke-width="2.4" stroke-linecap="round"/>
<circle cx="1149.8" cy="80.2" r="6.3" fill="url(#gR)"/>
<line x1="1114.3" y1="110.5" x2="1185.7" y2="110.5" stroke="#1c6de6" stroke-width="3.8" />
<text x="1197.5" y="62.1" font-size="31.0"  textLength="409.2" lengthAdjust="spacing">Support pressure before pressing</text>
<text x="1197.5" y="90.4" font-size="31.0"  textLength="387.8" lengthAdjust="spacing">Support pressure after pressing</text>
<text x="1197.5" y="118.8" font-size="31.0"  textLength="555.5" lengthAdjust="spacing">Amount of step change in abutment pressure</text>
<line x1="1548.4" y1="138.1" x2="1570" y2="138.1" stroke="#00b050" stroke-width="2.0" />
<polygon points="1581.2,138.1 1568.2,131.6 1568.2,144.6" fill="#00b050"/>
<line x1="1581.9" y1="124.5" x2="1581.9" y2="171.3" stroke="#00b050" stroke-width="2.2" />
<line x1="1597" y1="124.5" x2="1597" y2="208.1" stroke="#00b050" stroke-width="2.2" />
<polygon points="1597.8,138.1 1610.8,131.6 1610.8,144.6" fill="#00b050"/>
<line x1="1608" y1="138.1" x2="1626.6" y2="138.1" stroke="#00b050" stroke-width="2.0" />
<text x="1616.0" y="173.1" font-size="30.0"  textLength="76.1" lengthAdjust="spacing">2.5cm</text>
<line x1="1484" y1="251.8" x2="1582.2" y2="251.8" stroke="#00b050" stroke-width="2.4" />
<line x1="1507.3" y1="259.4" x2="1507.3" y2="309.5" stroke="#00b050" stroke-width="3.0" />
<polygon points="1507.3,252.9 1500.2,265.9 1514.4,265.9" fill="#00b050"/>
<polygon points="1507.3,316 1500.2,303 1514.4,303" fill="#00b050"/>
<text x="1384.4" y="280.7" font-size="31.0" >1.32MPa</text>
<line x1="1503.7" y1="481.9" x2="1555.6" y2="481.9" stroke="#00b050" stroke-width="3.0" stroke-linecap="round"/>
<line x1="1549.9" y1="326.4" x2="1549.9" y2="473.8" stroke="#00b050" stroke-width="3.3" />
<polygon points="1549.9,319.7 1542.9,333.1 1556.9,333.1" fill="#00b050"/>
<polygon points="1549.9,480.5 1542.9,467.1 1556.9,467.1" fill="#00b050"/>
<text x="1550.7" y="471.6" font-size="30.5"  textLength="124.1" lengthAdjust="spacing">-3.25MPa</text>
<line x1="1462" y1="371.1" x2="1499.5" y2="345.2" stroke="#00b050" stroke-width="2.4" />
<text x="1289.9" y="387.0" font-size="30.5"  textLength="171.8" lengthAdjust="spacing">Negative step</text>
<text x="1287.2" y="423.1" font-size="30.5"  textLength="173.7" lengthAdjust="spacing">change region</text>
<line x1="1582" y1="302.6" x2="1608.2" y2="329.9" stroke="#00b050" stroke-width="2.4" />
<text x="1559.0" y="357.5" font-size="30.5"  textLength="157.0" lengthAdjust="spacing">Positive step</text>
<text x="1550.3" y="393.5" font-size="30.5"  textLength="172.8" lengthAdjust="spacing">change region</text>
<text x="-1.5" y="753.8" font-size="37.5" text-anchor="start" style="white-space:pre">(a)  Step change characteristics of coal seam abutment pressure</text>
<text x="964.5" y="754" font-size="37.5" text-anchor="start" >(b) Step change characteristics of hard rock layer abutment pressure</text>
</svg></body></html>
